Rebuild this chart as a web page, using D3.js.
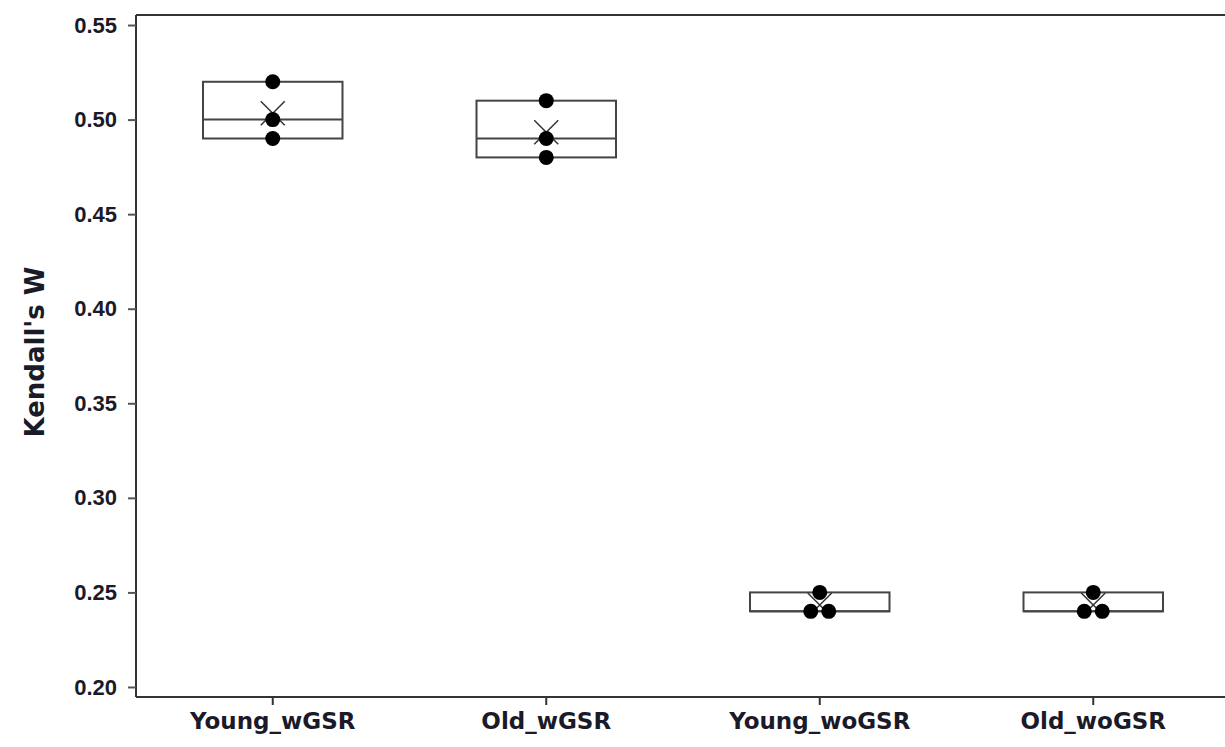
<!DOCTYPE html>
<html><head><meta charset="utf-8">
<script src="https://cdn.jsdelivr.net/npm/d3@7"></script>
<style>body{margin:0;background:#fff}svg{display:block}text{font-weight:bold;fill:#1a1a28}</style>
</head><body><svg id="c" width="1225" height="747"></svg>
<script>
const categories = ["Young_wGSR","Old_wGSR","Young_woGSR","Old_woGSR"];
const values = [[0.52,0.50,0.49],[0.51,0.49,0.48],[0.25,0.24,0.24],[0.25,0.24,0.24]];
const yTicks = [0.20,0.25,0.30,0.35,0.40,0.45,0.50,0.55];
const yTitle = "Kendall's W";

const svg = d3.select("#c");
const L=136, T=15, B=697, RR=1230;
const y = d3.scaleLinear().domain([0.1947,0.5553]).range([B,T]);
const x = d3.scaleBand().domain(categories).range([L,RR]).paddingInner(0.49).paddingOuter(0.245);
const bw = x.bandwidth();
const cx = c => x(c)+bw/2;

svg.append("line").attr("x1",L).attr("x2",1225).attr("y1",T).attr("y2",T).attr("stroke","#333").attr("stroke-width",2);
const ya = svg.append("g").attr("transform",`translate(${L},0)`)
  .call(d3.axisLeft(y).tickValues(yTicks).tickFormat(d3.format(".2f")).tickSize(8).tickPadding(11));
ya.select(".domain").attr("stroke","#333").attr("stroke-width",2).attr("d",`M0,${T}V${B}`);
ya.selectAll(".tick line").attr("stroke","#555").attr("stroke-width",2);
ya.selectAll("text").style("font-size","22px").style("font-family","'Liberation Sans',Arial,sans-serif").attr("fill","#1a1a28");
const xa = svg.append("g").attr("transform",`translate(0,${B})`)
  .call(d3.axisBottom(x).tickSize(8).tickPadding(8).tickSizeOuter(0));
xa.select(".domain").attr("stroke","#333").attr("stroke-width",2).attr("d",`M${L},0H1225`);
xa.selectAll(".tick line").attr("stroke","#333").attr("stroke-width",2);
xa.selectAll("text").style("font-size","23px").style("font-family","'DejaVu Sans',sans-serif").attr("fill","#1a1a28");

svg.append("text").attr("transform",`translate(44,352) rotate(-90)`).attr("text-anchor","middle")
  .style("font-size","26px").style("font-family","'DejaVu Sans',sans-serif").text(yTitle);

categories.forEach((c,i)=>{
  const v = values[i].slice().sort(d3.ascending);
  const q1=d3.min(v), q3=d3.max(v), med=d3.median(v), mean=d3.mean(v);
  const bx = x(c);
  svg.append("rect").attr("x",bx).attr("y",y(q3)).attr("width",bw).attr("height",y(q1)-y(q3))
    .attr("fill","none").attr("stroke","#444").attr("stroke-width",2);
  svg.append("line").attr("x1",bx).attr("x2",bx+bw).attr("y1",y(med)).attr("y2",y(med)).attr("stroke","#444").attr("stroke-width",2);
  const mx=cx(c), my=y(mean), s=12;
  svg.append("path").attr("d",`M${mx-s},${my-s}L${mx+s},${my+s}M${mx+s},${my-s}L${mx-s},${my+s}`)
    .attr("stroke","#333").attr("stroke-width",1.5).attr("fill","none");
  const counts = d3.rollup(v, g=>g.length, d=>d);
  counts.forEach((n,val)=>{
    for(let k=0;k<n;k++){
      const off = (k-(n-1)/2)*18;
      svg.append("circle").attr("cx",cx(c)+off).attr("cy",y(val)).attr("r",7.5).attr("fill","#000");
    }
  });
});
</script></body></html>
